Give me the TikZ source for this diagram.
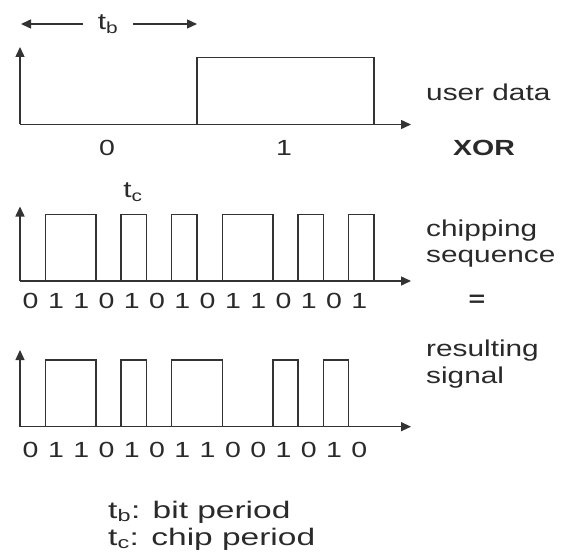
\documentclass[tikz,border=0pt]{standalone}
\usepackage{fontspec}
\setmainfont{Liberation Sans}
\newfontfamily\lab[FakeStretch=1.3]{Liberation Sans}
\newfontfamily\leg[FakeStretch=1.4]{Liberation Sans}
\usetikzlibrary{arrows.meta}
\definecolor{ink}{HTML}{333333}
\definecolor{txt}{HTML}{2A2A2A}
\begin{document}
\begin{tikzpicture}[x=1bp,y=-1bp,
  sig/.style={draw=ink,line width=1.4bp},
  axis/.style={draw=ink,line width=1.4bp,-{Triangle[length=10bp,width=9bp]}},
  lbl/.style={font=\lab\fontsize{23}{28}\selectfont, text=txt, inner sep=0pt},
  leglbl/.style={font=\leg\fontsize{24}{28}\selectfont, text=txt, inner sep=0pt, anchor=base west},
  dig/.style={font=\lab\fontsize{22}{26}\selectfont, text=txt, inner sep=0pt, anchor=center}]
\useasboundingbox (0,0) rectangle (561,557);
\def\w{25.2857}
% ---- t_b marker
\node[lbl, anchor=base] (tb) at (108,30) {t\textsubscript{b}};
\coordinate (tbl1) at (83,24); \coordinate (tbl0) at (21,24);
\coordinate (tbr1) at (133,24); \coordinate (tbr0) at (197,24);
\draw[axis] (tbl1) -- (tbl0);
\draw[axis] (tbr1) -- (tbr0);
% ---- user data
\coordinate (o1) at (20,124.5);
\coordinate (y1) at (20,47);
\coordinate (x1) at (411,124.5);
\draw[axis] (o1) -- (y1);
\draw[axis] (o1) -- (x1);
\draw[sig] (197,124.5) -- (197,57.5) -- (374,57.5) -- (374,124.5);
\node[dig] (d0) at (107,148) {0};
\node[dig] (d1) at (284,148) {1};
\node[lbl, anchor=base west] (ud) at (426,101) {user data};
\node[lbl, anchor=base, font=\lab\bfseries\fontsize{22}{26}\selectfont] (xor) at (484,156) {XOR};
% ---- chipping sequence
\coordinate (o2) at (20,281);
\coordinate (y2) at (20,206.5);
\coordinate (x2) at (411,281);
\draw[axis] (o2) -- (y2);
\draw[axis] (o2) -- (x2);
\foreach \a/\b in {1/3,4/5,6/7,8/10,11/12,13/14}
  \draw[sig] ({20+\a*\w},281) -- ({20+\a*\w},214.3) -- ({20+\b*\w},214.3) -- ({20+\b*\w},281);
\node[lbl, anchor=base] (tc) at (133,198) {t\textsubscript{c}};
\foreach \v [count=\i from 0] in {0,1,1,0,1,0,1,0,1,1,0,1,0,1}
  \node[dig] (c\i) at ({20+(\i+0.5)*\w-2},300.5) {\v};
\node[lbl, anchor=base west] (cs1) at (426,236) {chipping};
\node[lbl, anchor=base west] (cs2) at (426,262) {sequence};
\node[lbl, anchor=center, font=\lab\bfseries\fontsize{22}{26}\selectfont] (eq) at (477,301) {=};
% ---- resulting signal
\coordinate (o3) at (20,426.7);
\coordinate (y3) at (20,350);
\coordinate (x3) at (411,426.7);
\draw[axis] (o3) -- (y3);
\draw[axis] (o3) -- (x3);
\foreach \a/\b in {1/3,4/5,6/8,10/11,12/13}
  \draw[sig] ({20+\a*\w},426.7) -- ({20+\a*\w},360) -- ({20+\b*\w},360) -- ({20+\b*\w},426.7);
\foreach \v [count=\i from 0] in {0,1,1,0,1,0,1,1,0,0,1,0,1,0}
  \node[dig] (r\i) at ({20+(\i+0.5)*\w-2},450) {\v};
\node[lbl, anchor=base west] (rs1) at (426,356) {resulting};
\node[lbl, anchor=base west] (rs2) at (426,383) {signal};
% ---- legend
\node[leglbl] (lg1) at (108,518) {t\textsubscript{b}: bit period};
\node[leglbl] (lg2) at (108,545) {t\textsubscript{c}: chip period};
\end{tikzpicture}
\end{document}
